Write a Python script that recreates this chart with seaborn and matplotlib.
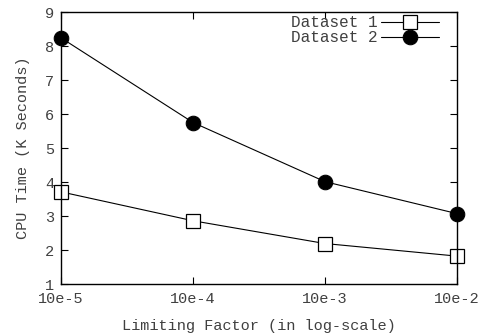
import numpy as np
import pandas as pd
import matplotlib
matplotlib.use("Agg")
import matplotlib.pyplot as plt
import seaborn as sns

limiting_factor = [1e-5, 1e-4, 1e-3, 1e-2]
x_labels = ["10e-5", "10e-4", "10e-3", "10e-2"]
dataset_1 = [3.71, 2.86, 2.19, 1.82]
dataset_2 = [8.24, 5.75, 4.01, 3.07]

sns.set_style("ticks")
plt.rcParams['font.family'] = ['Liberation Mono', 'DejaVu Sans']

df = pd.DataFrame({'factor': limiting_factor * 2,
                   'cpu': dataset_1 + dataset_2,
                   'series': ['Dataset 1'] * 4 + ['Dataset 2'] * 4})

fig = plt.figure(figsize=(4.82, 3.34), dpi=100)
ax = fig.add_axes([61 / 482, 50 / 334, 396 / 482, 272 / 334])

sns.lineplot(data=df[df.series == 'Dataset 1'], x='factor', y='cpu', ax=ax,
             color='black', lw=0.8, marker='s', markersize=10,
             markerfacecolor='white', markeredgecolor='black', markeredgewidth=0.9,
             label='Dataset 1', clip_on=False)
sns.lineplot(data=df[df.series == 'Dataset 2'], x='factor', y='cpu', ax=ax,
             color='black', lw=0.8, marker='o', markersize=10.5,
             markeredgecolor='black', label='Dataset 2', clip_on=False)

ax.set_xscale('log')
ax.set_xlim(1e-5, 1e-2)
ax.set_ylim(1, 9)
ax.set_xticks(limiting_factor)
ax.set_xticklabels(x_labels)
ax.minorticks_off()
ax.set_yticks(range(1, 10))
ax.tick_params(direction='in', top=True, right=True, length=5, width=0.8,
               labelsize=11, labelcolor='#404040', color='black')
ax.tick_params(axis='x', pad=6)
ax.tick_params(axis='y', pad=5)
for s in ax.spines.values():
    s.set_linewidth(1.0)
    s.set_color('black')

ax.set_xlabel('Limiting Factor (in log-scale)', fontsize=11, color='#404040', labelpad=9)
ax.set_ylabel('CPU Time (K Seconds)', fontsize=11, color='#404040', labelpad=11)

ax.legend(loc='upper right', frameon=False, markerfirst=False, fontsize=11.5,
          handlelength=3.6, handletextpad=0.25, borderaxespad=0.0,
          borderpad=0.2, labelspacing=0.0, labelcolor='#404040',
          bbox_to_anchor=(0.962, 0.999))

fig.savefig('out.png', dpi=100)
